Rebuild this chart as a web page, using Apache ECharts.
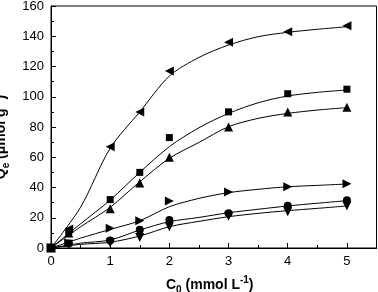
<!DOCTYPE html>
<html><head><meta charset="utf-8">
<script src="https://cdn.jsdelivr.net/npm/echarts@6/dist/echarts.min.js"></script>
<style>html,body{margin:0;padding:0;background:#fff}#c{width:378px;height:292px}</style>
</head><body><div id="c"></div>
<script>
// measured points
var xValues = [0, 0.3, 1, 1.5, 2, 3, 4, 5];
var seriesLeft = [0, 12.5, 67, 90, 117, 136, 143, 147];
var seriesSquare = [0, 11, 32, 50, 73, 90, 102, 105];
var seriesUp = [0, 10, 26, 43, 60, 80, 90, 93];
var seriesRight = [0, 3.5, 13, 18, 31, 37, 40.5, 42.5];
var seriesCircle = [0, 3, 5, 12, 18.5, 23, 28, 31.5];
var seriesDown = [0, 2.5, 3.5, 7, 14, 21, 24, 28];
// fitted curves
var curveX = [0, 0.5, 1, 1.5, 2, 2.5, 3, 3.5, 4, 4.5, 5];
var curveLeft = [0, 27, 66, 90, 113.7, 126, 134.2, 139.7, 142.6, 144.6, 146.3];
var curveSquare = [0, 16, 31.7, 50, 67, 79.5, 89, 96, 100.5, 102.9, 104.5];
var curveUp = [0, 14, 26.9, 43.8, 59.3, 69.8, 80.2, 85.7, 89, 91.2, 92.8];
var curveRight = [0, 6.5, 12.3, 18, 27.3, 32.8, 36.6, 38.8, 40.5, 41.4, 42.3];
var curveCircle = [0, 3.2, 5.3, 11.9, 17.4, 20.2, 23.3, 25.6, 27.8, 29.6, 31.3];
var curveDown = [0, 2.4, 3.8, 7.9, 14.1, 17.6, 20.7, 22.9, 24.7, 26.2, 27.8];
var xTicks = [0, 1, 2, 3, 4, 5];
var yTicks = [0, 20, 40, 60, 80, 100, 120, 140, 160];

function pts(xs, v){ return xs.map(function(x,i){ return [x, v[i]]; }); }
function curve(v){
  return {type:'line', data:pts(curveX, v), smooth:0.3, symbol:'none',
    lineStyle:{color:'#000',width:1}, silent:true, z:2};
}
function marks(v, sym, rot){
  return {type:'scatter', data:pts(xValues, v), symbol:sym,
    symbolSize: sym==='circle'?8:(sym==='rect'?7:9), symbolRotate:rot||0,
    itemStyle:{color:'#000', opacity:1}, z:3};
}
var chart = echarts.init(document.getElementById('c'));
var font = 'Liberation Sans, Arial, sans-serif';
var rich = {
  b:{fontFamily:font,fontSize:14,fontWeight:'bold',color:'#000',lineHeight:20},
  sub:{fontFamily:font,fontSize:10,fontWeight:'bold',color:'#000',lineHeight:10,verticalAlign:'bottom'},
  sup:{fontFamily:font,fontSize:10,fontWeight:'bold',color:'#000',lineHeight:10,verticalAlign:'top'}
};
chart.setOption({
  animation:false,
  grid:{left:51, right:1.5, top:6, bottom:44, show:true, borderColor:'#000', borderWidth:1,
        containLabel:false, outerBoundsMode:'none'},
  xAxis:{type:'value', min:0, max:5.5, interval:1,
    axisLine:{show:true,lineStyle:{color:'#000',width:1}},
    axisTick:{inside:true,length:5,lineStyle:{color:'#000'}},
    minorTick:{show:true,splitNumber:2,length:3,lineStyle:{color:'#000'}},
    splitLine:{show:false},
    axisLabel:{color:'#000',fontFamily:font,fontSize:13,margin:7,
      formatter:function(v){ return xTicks.indexOf(v)>=0 ? String(v) : ''; }},
    name:'{b|C}{sub|0}{b| (mmol L}{sup|-1}{b|)}', nameLocation:'middle', nameGap:27,
    nameTextStyle:{rich:rich, padding:[0,8,0,0]}
  },
  yAxis:{type:'value', min:0, max:160, interval:20,
    axisLine:{show:true,lineStyle:{color:'#000',width:1}},
    axisTick:{inside:true,length:5,lineStyle:{color:'#000'}},
    minorTick:{show:true,splitNumber:2,length:3,lineStyle:{color:'#000'}},
    splitLine:{show:false},
    axisLabel:{color:'#000',fontFamily:font,fontSize:13,margin:7,
      formatter:function(v){ return yTicks.indexOf(v)>=0 ? String(v) : ''; }},
    name:'{b|Q}{sub|e}{b| (μmol g}{sup|-1}{b|)}', nameLocation:'middle', nameGap:30,
    nameTextStyle:{rich:rich, padding:[0,20,0,0]}
  },
  series:[
    curve(curveLeft), curve(curveSquare), curve(curveUp),
    curve(curveRight), curve(curveCircle), curve(curveDown),
    marks(seriesLeft,'triangle',90),
    marks(seriesSquare,'rect'),
    marks(seriesUp,'triangle'),
    marks(seriesRight,'triangle',-90),
    marks(seriesCircle,'circle'),
    marks(seriesDown,'triangle',180)
  ]
});
</script></body></html>
